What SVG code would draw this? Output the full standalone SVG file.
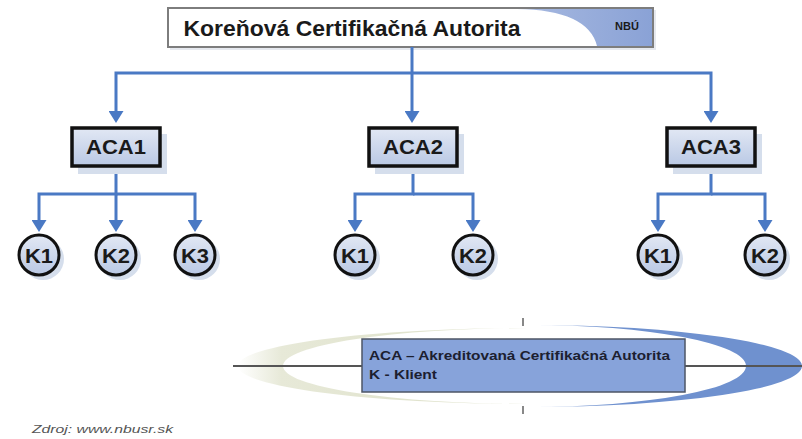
<svg xmlns="http://www.w3.org/2000/svg" width="802" height="439" viewBox="0 0 802 439">
  <style>
    .lbl { font-family: "Liberation Sans", Arial, sans-serif; font-weight: bold; fill: #1a1a1a; text-anchor: middle; }
    .leg { font-family: "Liberation Sans", Arial, sans-serif; font-weight: bold; font-size: 13px; fill: #1c2030; }
    .conn { fill: none; stroke: #4a79c4; stroke-width: 3; marker-end: url(#arr); }
    .aca { fill: url(#nodeFill); stroke: #111; stroke-width: 3.5; }
    .kc { fill: url(#nodeFill); stroke: #111; stroke-width: 3; }
    .shadow { fill: #d5deec; }
  </style>
  <defs>
    <marker id="arr" viewBox="0 0 12 15" refX="0" refY="7.5" markerWidth="12" markerHeight="15" markerUnits="userSpaceOnUse" orient="auto">
      <path d="M0,0 L12,7.5 L0,15 Z" fill="#4a79c4"/>
    </marker>
    <linearGradient id="nodeFill" x1="0" y1="0" x2="0" y2="1">
      <stop offset="0" stop-color="#e2e8f4"/>
      <stop offset="1" stop-color="#b9c8e4"/>
    </linearGradient>
    <linearGradient id="beige" x1="0" y1="0" x2="1" y2="0">
      <stop offset="0" stop-color="#ffffff"/>
      <stop offset="0.15" stop-color="#e7e9d8"/>
      <stop offset="1" stop-color="#dcdfc6"/>
    </linearGradient>
    <linearGradient id="topBlue" x1="0" y1="0" x2="1" y2="0">
      <stop offset="0" stop-color="#a7b9e0"/>
      <stop offset="1" stop-color="#8aa2d6"/>
    </linearGradient>
  </defs>

  <rect width="802" height="439" fill="#ffffff"/>

  <!-- Root node -->
  <g id="root">
    <rect x="170" y="10" width="486" height="40" fill="#e6e9ef"/>
    <rect x="168" y="8" width="485" height="39" fill="#ffffff" stroke="#7d7d7d" stroke-width="2"/>
    <path d="M517 9 Q588 10 597 46 L652 46 L652 9 Z" fill="url(#topBlue)"/>
    <text class="lbl" x="352" y="36" font-size="22" textLength="337" lengthAdjust="spacingAndGlyphs">Koreňová Certifikačná Autorita</text>
    <text class="lbl" x="627" y="30" font-size="11" fill="#1c2340">NBÚ</text>
  </g>

  <!-- Connectors -->
  <g id="connectors">
    <path class="conn" d="M412 47 V111"/>
    <path class="conn" d="M412 73 H116 V111"/>
    <path class="conn" d="M412 73 H711 V111"/>

    <path class="conn" d="M116 167 V194 H39 V220"/>
    <path class="conn" d="M116 194 V220"/>
    <path class="conn" d="M116 194 H195 V220"/>

    <path class="conn" d="M413 167 V194 H355 V220"/>
    <path class="conn" d="M413 194 H473 V220"/>

    <path class="conn" d="M711 167 V194 H658 V220"/>
    <path class="conn" d="M711 194 H765 V220"/>
  </g>

  <!-- ACA nodes -->
  <g id="aca1">
    <rect class="shadow" x="78" y="134" width="89" height="40"/>
    <rect class="aca" x="72" y="128" width="88" height="38"/>
    <text class="lbl" x="116" y="154" font-size="20" textLength="60" lengthAdjust="spacingAndGlyphs">ACA1</text>
  </g>
  <g id="aca2">
    <rect class="shadow" x="375" y="134" width="89" height="40"/>
    <rect class="aca" x="369" y="128" width="88" height="38"/>
    <text class="lbl" x="413" y="154" font-size="20" textLength="60" lengthAdjust="spacingAndGlyphs">ACA2</text>
  </g>
  <g id="aca3">
    <rect class="shadow" x="673" y="134" width="89" height="40"/>
    <rect class="aca" x="667" y="128" width="88" height="38"/>
    <text class="lbl" x="711" y="154" font-size="20" textLength="60" lengthAdjust="spacingAndGlyphs">ACA3</text>
  </g>

  <!-- Client nodes -->
  <g id="aca1-k1">
    <circle class="shadow" cx="43" cy="259" r="21"/>
    <circle class="kc" cx="39" cy="255" r="20"/>
    <text class="lbl" x="39" y="263" font-size="20" textLength="28" lengthAdjust="spacingAndGlyphs">K1</text>
  </g>
  <g id="aca1-k2">
    <circle class="shadow" cx="120" cy="259" r="21"/>
    <circle class="kc" cx="116" cy="255" r="20"/>
    <text class="lbl" x="116" y="263" font-size="20" textLength="28" lengthAdjust="spacingAndGlyphs">K2</text>
  </g>
  <g id="aca1-k3">
    <circle class="shadow" cx="199" cy="259" r="21"/>
    <circle class="kc" cx="195" cy="255" r="20"/>
    <text class="lbl" x="195" y="263" font-size="20" textLength="28" lengthAdjust="spacingAndGlyphs">K3</text>
  </g>
  <g id="aca2-k1">
    <circle class="shadow" cx="359" cy="259" r="21"/>
    <circle class="kc" cx="355" cy="255" r="20"/>
    <text class="lbl" x="355" y="263" font-size="20" textLength="28" lengthAdjust="spacingAndGlyphs">K1</text>
  </g>
  <g id="aca2-k2">
    <circle class="shadow" cx="477" cy="259" r="21"/>
    <circle class="kc" cx="473" cy="255" r="20"/>
    <text class="lbl" x="473" y="263" font-size="20" textLength="28" lengthAdjust="spacingAndGlyphs">K2</text>
  </g>
  <g id="aca3-k1">
    <circle class="shadow" cx="662" cy="259" r="21"/>
    <circle class="kc" cx="658" cy="255" r="20"/>
    <text class="lbl" x="658" y="263" font-size="20" textLength="28" lengthAdjust="spacingAndGlyphs">K1</text>
  </g>
  <g id="aca3-k2">
    <circle class="shadow" cx="769" cy="259" r="21"/>
    <circle class="kc" cx="765" cy="255" r="20"/>
    <text class="lbl" x="765" y="263" font-size="20" textLength="28" lengthAdjust="spacingAndGlyphs">K2</text>
  </g>

  <!-- Legend -->
  <g id="legend">
    <path d="M528 328 A290 38 0 0 0 528 404 A245 38 0 0 1 528 328 Z" fill="url(#beige)"/>
    <path d="M530 325 A272 41 0 0 1 530 407 A216 41 0 0 0 530 325 Z" fill="#6f91cf"/>
    <line x1="233" y1="366" x2="802" y2="366" stroke="#555" stroke-width="2"/>
    <line x1="523" y1="318" x2="523" y2="326" stroke="#888" stroke-width="2"/>
    <line x1="523" y1="406" x2="523" y2="414" stroke="#888" stroke-width="2"/>
    <rect x="362" y="339" width="323" height="53" fill="#87a3da" stroke="#4d5666" stroke-width="1.5"/>
    <text class="leg" x="369" y="360" textLength="301" lengthAdjust="spacingAndGlyphs">ACA – Akreditovaná Certifikačná Autorita</text>
    <text class="leg" x="369" y="379" textLength="68" lengthAdjust="spacingAndGlyphs">K - Klient</text>
  </g>

  <text id="source" x="32" y="433" font-family="Liberation Sans, Arial, sans-serif" font-style="italic" font-size="11" fill="#555" textLength="141" lengthAdjust="spacingAndGlyphs">Zdroj: www.nbusr.sk</text>
</svg>
